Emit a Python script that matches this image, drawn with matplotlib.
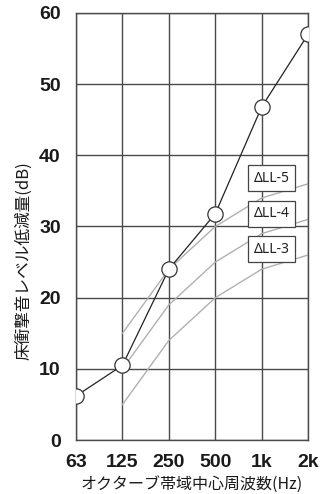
import matplotlib
matplotlib.use("Agg")
import matplotlib.pyplot as plt
from matplotlib import font_manager

# Octave band centre frequencies
bands = ["63", "125", "250", "500", "1k", "2k"]

# Measured floor impact sound level reduction (dB)
reduction = [6.2, 10.5, 24.0, 31.8, 46.8, 57.0]

# Reference grade curves (125 Hz .. 2 kHz)
grade_bands = ["125", "250", "500", "1k", "2k"]
grade_names = ["ΔLL-5", "ΔLL-4", "ΔLL-3"]
grade_values = [
    [15, 24, 30, 34, 36],
    [10, 19, 25, 29, 31],
    [5, 14, 20, 24, 26],
]

yticks = [0, 10, 20, 30, 40, 50, 60]

installed = {f.name for f in font_manager.fontManager.ttflist}
num_font = [f for f in ["Liberation Sans Narrow", "Liberation Sans", "DejaVu Sans"]
            if f in installed]
jp_font = ["Noto Sans CJK JP", "DejaVu Sans"]

fig = plt.figure(figsize=(3.22, 4.94), dpi=100)
ax = fig.add_axes([0.236, 0.109, 0.721, 0.865])

xpos = {b: i for i, b in enumerate(bands)}

grid_c = "#4a4a4a"
curve_c = "#b0b0b0"

# grid
for i in range(len(bands)):
    ax.axvline(i, color=grid_c, lw=1.0, zorder=1)
for v in yticks:
    ax.axhline(v, color=grid_c, lw=1.0, zorder=1)

# grade curves
for vals in grade_values:
    ax.plot([xpos[b] for b in grade_bands], vals, color=curve_c, lw=1.0, zorder=2)

# measured data
ax.plot(range(len(bands)), reduction, color="#222222", lw=0.9, zorder=3,
        marker="o", markersize=11, markerfacecolor="white",
        markeredgecolor="#333333", markeredgewidth=0.9)

# curve labels
label_x = 4.22
for name, vals in zip(grade_names, grade_values):
    ax.text(label_x, vals[-1] + 0.8, name, ha="center", va="center",
            fontsize=10, family=["Noto Sans", "DejaVu Sans"], color="#222222", zorder=5,
            bbox=dict(boxstyle="square,pad=0.4", facecolor="white",
                      edgecolor="#444444", linewidth=0.9))

ax.set_xlim(0, len(bands) - 1)
ax.set_ylim(0, 60)
ax.set_xticks(range(len(bands)))
ax.set_xticklabels(bands)
ax.set_yticks(yticks)
ax.set_yticklabels([str(v) for v in yticks])
ax.tick_params(axis="y", length=0, labelsize=14, pad=11)
ax.tick_params(axis="x", length=0, labelsize=14, pad=10)
for lab in ax.get_xticklabels() + ax.get_yticklabels():
    lab.set_fontfamily(num_font)
    lab.set_fontweight("bold")
    lab.set_color("#1a1a1a")
for s in ax.spines.values():
    s.set_color(grid_c)
    s.set_linewidth(1.0)

ax.set_ylabel("床衝撃音レベル低減量(dB)", family=jp_font, fontsize=12,
              color="#1a1a1a")
ax.yaxis.set_label_coords(-0.19, 0.42)
fig.text(0.596, 0.019, "オクターブ帯域中心周波数(Hz)", family=jp_font,
         fontsize=11.5, color="#1a1a1a", ha="center", va="center")

fig.savefig("out.png", dpi=100)
